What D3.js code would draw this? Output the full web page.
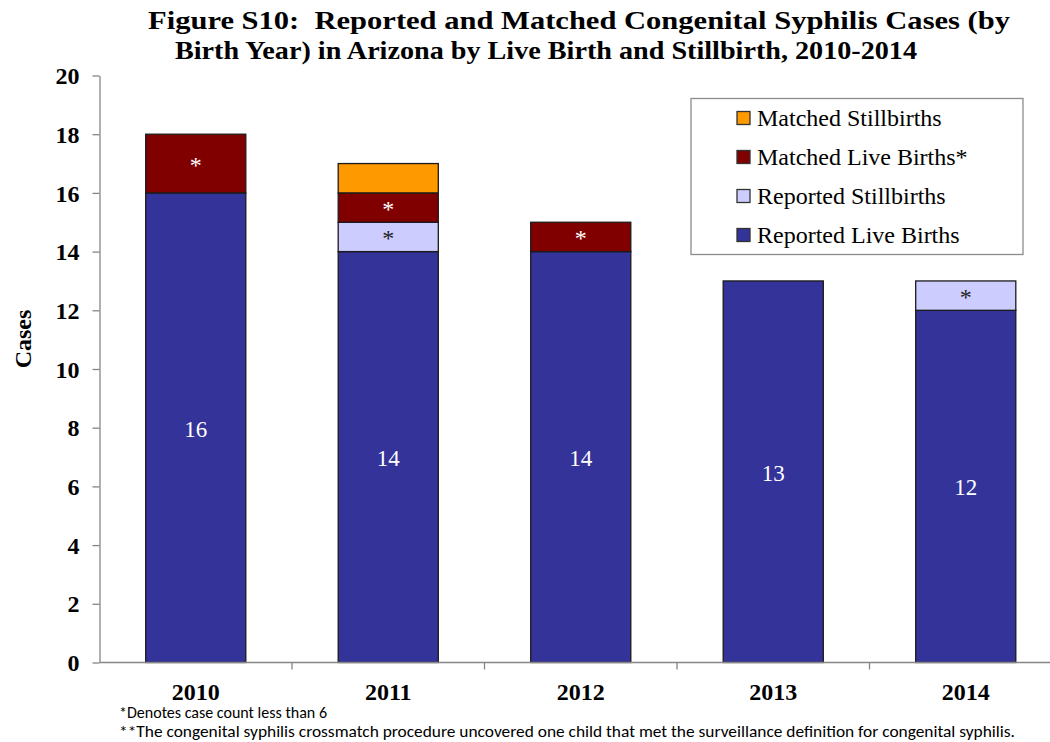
<!DOCTYPE html>
<html>
<head>
<meta charset="utf-8">
<script src="https://cdn.jsdelivr.net/npm/d3@7"></script>
<style>
  html, body { margin: 0; padding: 0; background: #fff; }
  svg { display: block; }
  .serif { font-family: "Liberation Serif", "Times New Roman", serif; }
  .sans { font-family: Carlito, Calibri, Lato, "Open Sans", sans-serif; }
  .pre { white-space: pre; }
</style>
</head>
<body>
<svg id="chart" width="1050" height="742"></svg>
<script>
// Birth years and stacked case counts per category
const years = ["2010", "2011", "2012", "2013", "2014"];
const reportedLiveBirths = [16, 14, 14, 13, 12];
const reportedStillbirths = [0, 1, 0, 0, 1];
const matchedLiveBirths = [2, 1, 1, 0, 0];
const matchedStillbirths = [0, 1, 0, 0, 0];
const yTicks = [0, 2, 4, 6, 8, 10, 12, 14, 16, 18, 20];

const titleLines = [
  "Figure S10:  Reported and Matched Congenital Syphilis Cases (by",
  "Birth Year) in Arizona by Live Birth and Stillbirth, 2010-2014"
];
const footnotes = [
  "*Denotes case count less than 6",
  "**The congenital syphilis crossmatch procedure uncovered one child that met the surveillance definition for congenital syphilis."
];

// Series in stacking order (bottom to top)
const series = [
  { key: "reportedLive", name: "Reported Live Births", values: reportedLiveBirths, color: "#333399", label: "value", labelColor: "#ffffff" },
  { key: "reportedStill", name: "Reported Stillbirths", values: reportedStillbirths, color: "#ccccff", label: "star", labelColor: "#222222" },
  { key: "matchedLive", name: "Matched Live Births*", values: matchedLiveBirths, color: "#800000", label: "star", labelColor: "#ffffff" },
  { key: "matchedStill", name: "Matched Stillbirths", values: matchedStillbirths, color: "#ff9900", label: "none", labelColor: "#000" }
];

const rows = years.map((yr, i) => {
  const r = { year: yr };
  series.forEach(s => { r[s.key] = s.values[i]; });
  return r;
});
const stacked = d3.stack().keys(series.map(s => s.key))(rows);

const svg = d3.select("#chart");

const x = d3.scaleBand()
  .domain(years)
  .range([99.5, 1062])
  .paddingInner(0.48)
  .paddingOuter(0.24);

const y = d3.scaleLinear().domain([0, 20]).range([662.5, 75.5]);

// Title (two centred lines, set wide)
const titleLayout = [
  { cx: 579, width: 862 },
  { cx: 546, width: 742 }
];
svg.append("g").selectAll("text")
  .data(titleLines)
  .join("text")
  .attr("class", "serif pre")
  .attr("x", (d, i) => titleLayout[i].cx)
  .attr("y", (d, i) => 29 + i * 30)
  .attr("text-anchor", "middle")
  .attr("font-weight", "bold")
  .attr("font-size", 26)
  .attr("textLength", (d, i) => titleLayout[i].width)
  .attr("lengthAdjust", "spacingAndGlyphs")
  .attr("fill", "#000")
  .text(d => d);

// Bars
const barLayer = svg.append("g");
stacked.forEach((layer, li) => {
  const s = series[li];
  barLayer.append("g")
    .selectAll("rect")
    .data(layer.filter(d => d[1] - d[0] > 0))
    .join("rect")
    .attr("x", d => x(d.data.year))
    .attr("width", x.bandwidth())
    .attr("y", d => y(d[1]))
    .attr("height", d => y(d[0]) - y(d[1]))
    .attr("fill", s.color)
    .attr("stroke", "#1a1a1a")
    .attr("stroke-width", 1.3);
});

// Segment labels
stacked.forEach((layer, li) => {
  const s = series[li];
  if (s.label === "none") return;
  barLayer.append("g")
    .selectAll("text")
    .data(layer.filter(d => d[1] - d[0] > 0))
    .join("text")
    .attr("class", "serif")
    .attr("x", d => x(d.data.year) + x.bandwidth() / 2)
    .attr("y", d => y((d[0] + d[1]) / 2) + (s.label === "star" ? 9 : 9))
    .attr("text-anchor", "middle")
    .attr("font-size", s.label === "star" ? 24 : 23)
    .attr("fill", s.labelColor)
    .text(d => s.label === "star" ? "*" : (d[1] - d[0]));
});

// Y axis
const yAxis = svg.append("g")
  .attr("transform", "translate(99.5,0)")
  .call(d3.axisLeft(y).tickValues(yTicks).tickSize(7).tickSizeOuter(0).tickPadding(13));
yAxis.select(".domain").attr("stroke", "#868686").attr("stroke-width", 1.3);
yAxis.selectAll(".tick line").attr("stroke", "#868686").attr("stroke-width", 1.3);
yAxis.selectAll(".tick text")
  .attr("class", "serif")
  .attr("font-size", 24)
  .attr("font-weight", "bold")
  .attr("fill", "#000")
  .attr("dy", "0.34em");

// X axis line and category boundary ticks
const xAxisG = svg.append("g").attr("transform", `translate(0,${y(0)})`);
xAxisG.append("line")
  .attr("x1", 99.5).attr("x2", 1050)
  .attr("stroke", "#868686").attr("stroke-width", 1.3);
const boundaries = years.slice(1).map(yr => x(yr) - (x.step() - x.bandwidth()) / 2);
xAxisG.selectAll("line.bound")
  .data(boundaries)
  .join("line")
  .attr("class", "bound")
  .attr("x1", d => d).attr("x2", d => d)
  .attr("y1", 0).attr("y2", 7)
  .attr("stroke", "#868686").attr("stroke-width", 1.3);

const xAxis = svg.append("g")
  .attr("transform", `translate(0,${y(0)})`)
  .call(d3.axisBottom(x).tickSize(0).tickPadding(0));
xAxis.select(".domain").remove();
xAxis.selectAll(".tick text")
  .attr("class", "serif")
  .attr("font-size", 24)
  .attr("font-weight", "bold")
  .attr("fill", "#000")
  .attr("dy", 0)
  .attr("y", 37);

// Y axis title
svg.append("text")
  .attr("class", "serif")
  .attr("transform", "translate(31,339) rotate(-90)")
  .attr("text-anchor", "middle")
  .attr("font-size", 24)
  .attr("font-weight", "bold")
  .attr("fill", "#000")
  .text("Cases");

// Legend (top entry is the top of the stack)
const legend = svg.append("g");
legend.append("rect")
  .attr("x", 691).attr("y", 98.5)
  .attr("width", 332).attr("height", 156)
  .attr("fill", "#fff")
  .attr("stroke", "#8c8c8c")
  .attr("stroke-width", 1.3);
const legendItems = series.slice().reverse();
const li = legend.selectAll("g.item")
  .data(legendItems)
  .join("g")
  .attr("class", "item")
  .attr("transform", (d, i) => `translate(737,${118 + i * 39})`);
li.append("rect")
  .attr("x", 0).attr("y", -6.5)
  .attr("width", 13).attr("height", 13)
  .attr("fill", d => d.color)
  .attr("stroke", "#333")
  .attr("stroke-width", 1.3);
li.append("text")
  .attr("class", "serif")
  .attr("x", 20)
  .attr("y", 8)
  .attr("font-size", 24)
  .attr("fill", "#000")
  .text(d => d.name);

// Footnotes
const footWidths = [208, 896];
svg.append("g").selectAll("text")
  .data(footnotes)
  .join("text")
  .attr("class", "sans")
  .attr("x", 119)
  .attr("y", (d, i) => 718 + i * 19)
  .attr("font-size", 16)
  .attr("textLength", (d, i) => footWidths[i])
  .attr("lengthAdjust", "spacingAndGlyphs")
  .attr("fill", "#000")
  .text(d => d);
</script>
</body>
</html>
